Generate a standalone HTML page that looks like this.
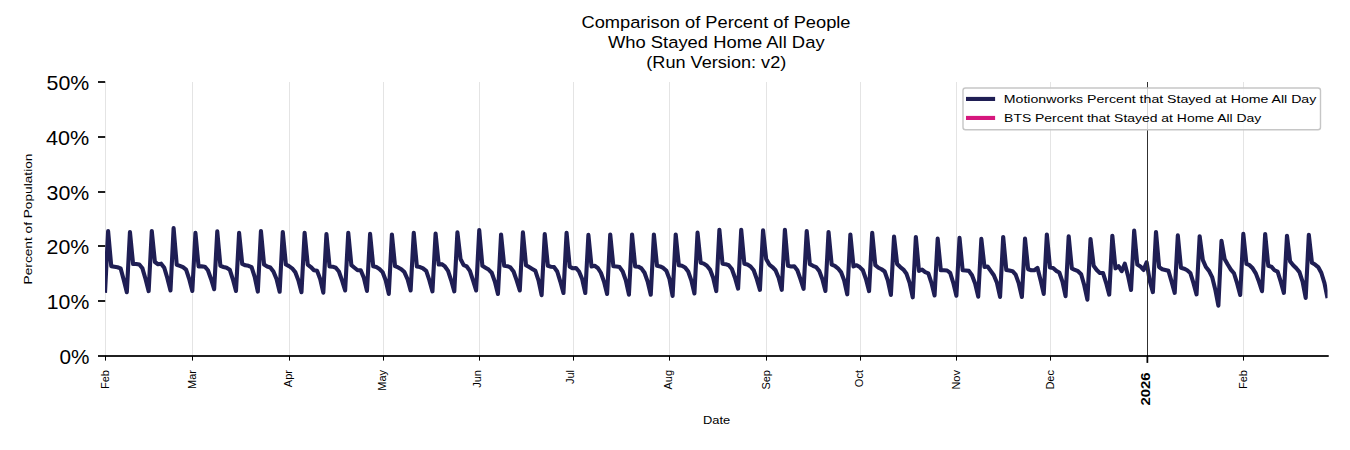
<!DOCTYPE html>
<html lang="en">
<head>
<meta charset="utf-8">
<title>Comparison of Percent of People Who Stayed Home All Day (Run Version: v2)</title>
<style>
html,body{margin:0;padding:0;background:#fff;font-family:"Liberation Sans",sans-serif;}
body{width:1350px;height:450px;overflow:hidden;}
svg{display:block;}
</style>
</head>
<body>
<svg width="1350" height="450" viewBox="0 0 1350 450" role="img" aria-label="Comparison of Percent of People Who Stayed Home All Day (Run Version: v2)">
<rect x="0" y="0" width="1350" height="450" fill="#fff"/>
<defs><clipPath id="ax"><rect x="105.0" y="82.0" width="1222.5304" height="274.0"/></clipPath></defs>
<g fill="#e4e4e4" aria-hidden="true">
<rect x="105" y="82.0" width="1" height="274.0"/>
<rect x="192" y="82.0" width="1" height="274.0"/>
<rect x="289" y="82.0" width="1" height="274.0"/>
<rect x="383" y="82.0" width="1" height="274.0"/>
<rect x="479" y="82.0" width="1" height="274.0"/>
<rect x="573" y="82.0" width="1" height="274.0"/>
<rect x="669" y="82.0" width="1" height="274.0"/>
<rect x="766" y="82.0" width="1" height="274.0"/>
<rect x="860" y="82.0" width="1" height="274.0"/>
<rect x="956" y="82.0" width="1" height="274.0"/>
<rect x="1050" y="82.0" width="1" height="274.0"/>
<rect x="1243" y="82.0" width="1" height="274.0"/>
</g>
<polyline clip-path="url(#ax)" points="105.00,292.87 108.12,231.06 111.24,266.13 114.36,266.68 117.47,267.22 120.59,268.32 123.71,279.83 126.83,292.16 129.95,231.99 133.07,263.94 136.19,263.94 139.31,264.48 142.42,268.32 145.54,279.01 148.66,291.12 151.78,231.06 154.90,262.02 158.02,264.21 161.14,263.66 164.26,267.77 167.37,278.18 170.49,290.51 173.61,228.15 176.73,264.76 179.85,265.85 182.97,267.22 186.09,269.69 189.20,279.01 192.32,290.90 195.44,232.86 198.56,266.40 201.68,266.40 204.80,266.68 207.92,270.24 211.04,279.01 214.15,289.25 217.27,231.38 220.39,265.85 223.51,266.95 226.63,267.77 229.75,269.69 232.87,279.28 235.99,290.90 239.10,232.86 242.22,263.94 245.34,265.31 248.46,265.85 251.58,267.22 254.70,276.81 257.82,291.56 260.94,231.06 264.05,264.54 267.17,266.46 270.29,267.44 273.41,271.50 276.53,279.06 279.65,291.77 282.77,231.93 285.88,264.54 289.00,266.18 292.12,268.32 295.24,272.10 298.36,280.32 301.48,292.16 304.60,232.81 307.72,264.54 310.83,267.06 313.95,270.24 317.07,270.84 320.19,279.06 323.31,292.65 326.43,234.07 329.55,266.46 332.67,266.68 335.78,267.72 338.90,271.50 342.02,280.32 345.14,290.51 348.26,232.81 351.38,265.20 354.50,267.72 357.61,270.24 360.73,270.24 363.85,277.80 366.97,290.90 370.09,233.85 373.21,266.18 376.33,267.06 379.45,268.98 382.56,272.10 385.68,280.32 388.80,293.91 391.92,234.45 395.04,266.18 398.16,267.44 401.28,269.25 404.40,272.10 407.51,279.06 410.63,290.51 413.75,232.81 416.87,266.46 419.99,267.06 423.11,268.48 426.23,270.79 429.34,280.10 432.46,291.39 435.58,233.58 438.70,264.54 441.82,264.16 444.94,266.46 448.06,270.84 451.18,280.32 454.29,291.39 457.41,232.32 460.53,259.00 463.65,265.20 466.77,266.46 469.89,270.84 473.01,280.32 476.13,290.51 479.24,230.07 482.36,265.80 485.48,267.72 488.60,269.58 491.72,272.76 494.84,281.58 497.96,293.91 501.07,234.45 504.19,265.80 507.31,266.18 510.43,267.44 513.55,271.50 516.67,280.32 519.79,290.51 522.91,232.32 526.02,265.20 529.14,267.06 532.26,268.98 535.38,270.84 538.50,280.32 541.62,295.17 544.74,234.07 547.86,265.80 550.97,266.68 554.09,267.06 557.21,271.50 560.33,281.58 563.45,293.03 566.57,232.81 569.69,266.68 572.81,268.32 575.92,267.94 579.04,271.50 582.16,279.06 585.28,293.03 588.40,234.84 591.52,266.46 594.64,265.80 597.75,267.94 600.87,272.76 603.99,281.58 607.11,293.91 610.23,234.45 613.35,266.18 616.47,266.46 619.59,267.06 622.70,271.50 625.82,280.32 628.94,294.68 632.06,234.45 635.18,266.46 638.30,266.68 641.42,268.32 644.54,272.76 647.65,281.58 650.77,294.68 653.89,234.45 657.01,265.80 660.13,266.46 663.25,267.94 666.37,270.84 669.48,279.06 672.60,295.94 675.72,234.45 678.84,265.20 681.96,265.80 685.08,267.44 688.20,271.50 691.32,280.32 694.43,293.42 697.55,232.59 700.67,262.68 703.79,263.66 706.91,265.80 710.03,269.58 713.15,277.80 716.27,291.12 719.38,229.80 722.50,263.66 725.62,264.16 728.74,265.20 731.86,268.98 734.98,277.80 738.10,288.60 741.21,229.80 744.33,263.66 747.45,264.54 750.57,266.46 753.69,270.24 756.81,279.06 759.93,289.86 763.05,230.29 766.16,258.89 769.28,264.54 772.40,267.06 775.52,270.24 778.64,277.80 781.76,289.86 784.88,229.80 788.00,265.80 791.11,266.46 794.23,266.18 797.35,270.24 800.47,279.06 803.59,288.87 806.71,231.06 809.83,264.16 812.94,265.80 816.06,267.06 819.18,270.84 822.30,279.06 825.42,290.90 828.54,231.93 831.66,264.54 834.78,265.80 837.89,268.32 841.01,272.10 844.13,280.32 847.25,294.30 850.37,234.45 853.49,266.46 856.61,265.20 859.73,267.06 862.84,270.24 865.96,279.06 869.08,291.12 872.20,232.81 875.32,265.20 878.44,267.72 881.56,269.25 884.67,271.50 887.79,280.32 890.91,294.90 894.03,236.59 897.15,263.94 900.27,267.06 903.39,269.58 906.51,273.80 909.62,282.84 912.74,297.31 915.86,236.97 918.98,270.84 922.10,269.58 925.22,272.10 928.34,273.36 931.46,282.84 934.57,295.39 937.69,238.62 940.81,270.24 943.93,270.24 947.05,270.51 950.17,272.98 953.29,282.84 956.41,295.67 959.52,237.85 962.64,270.24 965.76,270.51 968.88,270.84 972.00,275.28 975.12,283.44 978.24,296.65 981.35,238.89 984.47,267.06 987.59,266.46 990.71,270.84 993.83,275.28 996.95,282.84 1000.07,296.93 1003.19,236.97 1006.30,269.96 1009.42,270.51 1012.54,271.22 1015.66,274.62 1018.78,283.44 1021.90,296.93 1025.02,238.62 1028.14,269.25 1031.25,270.24 1034.37,270.24 1037.49,267.94 1040.61,280.32 1043.73,293.91 1046.85,234.45 1049.97,267.44 1053.08,267.94 1056.20,270.84 1059.32,272.48 1062.44,281.58 1065.56,296.16 1068.68,236.32 1071.80,268.32 1074.92,269.96 1078.03,271.22 1081.15,274.24 1084.27,285.31 1087.39,299.67 1090.51,239.11 1093.63,265.80 1096.75,269.96 1099.87,272.98 1102.98,272.98 1106.10,282.84 1109.22,294.62 1112.34,235.71 1115.46,268.32 1118.58,266.13 1121.70,271.22 1124.81,263.66 1127.93,275.44 1131.05,289.97 1134.17,230.67 1137.29,264.54 1140.41,266.46 1143.53,269.96 1146.65,262.29 1149.76,280.92 1152.88,292.10 1156.00,231.93 1159.12,267.06 1162.24,269.25 1165.36,269.96 1168.48,270.84 1171.60,281.58 1174.71,292.87 1177.83,235.33 1180.95,267.72 1184.07,268.70 1187.19,270.24 1190.31,272.98 1193.43,282.84 1196.55,294.35 1199.66,236.21 1202.78,259.83 1205.90,267.06 1209.02,270.84 1212.14,277.09 1215.26,289.42 1218.38,305.69 1221.49,240.76 1224.61,258.89 1227.73,264.54 1230.85,269.58 1233.97,273.25 1237.09,283.12 1240.21,295.01 1243.33,233.85 1246.44,263.94 1249.56,265.20 1252.68,268.32 1255.80,273.36 1258.92,281.58 1262.04,291.23 1265.16,234.07 1268.28,265.80 1271.39,266.68 1274.51,270.24 1277.63,271.72 1280.75,281.58 1283.87,292.87 1286.99,235.71 1290.11,261.42 1293.22,265.20 1296.34,268.32 1299.46,272.10 1302.58,281.58 1305.70,297.91 1308.82,234.84 1311.94,262.68 1315.06,264.54 1318.17,267.06 1321.29,272.76 1324.41,282.84 1327.53,298.19" fill="none" stroke="#1f1e54" stroke-width="4.1" stroke-linejoin="round" stroke-linecap="butt"/>
<rect x="1147" y="82.0" width="1" height="274.0" fill="#303030"/>
<rect x="105.0" y="355.13" width="1223.73" height="1.74" fill="#000"/>
<g fill="#000">
<rect x="98" y="355.13" width="7.2" height="1.74"/>
<rect x="98" y="300.13" width="7.2" height="1.74"/>
<rect x="98" y="245.13" width="7.2" height="1.74"/>
<rect x="98" y="191.13" width="7.2" height="1.74"/>
<rect x="98" y="136.13" width="7.2" height="1.74"/>
<rect x="98" y="81.13" width="7.2" height="1.74"/>
<rect x="105" y="356.0" width="1" height="4.6"/>
<rect x="192" y="356.0" width="1" height="4.6"/>
<rect x="289" y="356.0" width="1" height="4.6"/>
<rect x="383" y="356.0" width="1" height="4.6"/>
<rect x="479" y="356.0" width="1" height="4.6"/>
<rect x="573" y="356.0" width="1" height="4.6"/>
<rect x="669" y="356.0" width="1" height="4.6"/>
<rect x="766" y="356.0" width="1" height="4.6"/>
<rect x="860" y="356.0" width="1" height="4.6"/>
<rect x="956" y="356.0" width="1" height="4.6"/>
<rect x="1050" y="356.0" width="1" height="4.6"/>
<rect x="1243" y="356.0" width="1" height="4.6"/>
<rect x="1146.5" y="356.0" width="1.74" height="6.9"/>
</g>
<rect x="963" y="88" width="357.5" height="41.8" rx="2.5" ry="2.5" fill="#fff" fill-opacity="0.8" stroke="#c6c6c6" stroke-width="1.4"/>
<rect x="966" y="96.9" width="29.1" height="4.1" fill="#1f1e54"/>
<rect x="966" y="115.9" width="29.1" height="4.1" fill="#d6177d"/>
<g font-family="'Liberation Sans', sans-serif" fill="#000" stroke="none">
<text x="581.5" y="27.6" font-size="16.67" textLength="269" lengthAdjust="spacingAndGlyphs">Comparison of Percent of People</text>
<text x="607.9" y="47.6" font-size="16.67" textLength="216.7" lengthAdjust="spacingAndGlyphs">Who Stayed Home All Day</text>
<text x="646.3" y="67.7" font-size="16.67" textLength="140" lengthAdjust="spacingAndGlyphs">(Run Version: v2)</text>
<text x="59.4" y="363.5" font-size="20.4" textLength="30" lengthAdjust="spacingAndGlyphs">0%</text>
<text x="46.8" y="308.5" font-size="20.4" textLength="42.5" lengthAdjust="spacingAndGlyphs">10%</text>
<text x="46.6" y="253.5" font-size="20.4" textLength="42.7" lengthAdjust="spacingAndGlyphs">20%</text>
<text x="46.6" y="199.5" font-size="20.4" textLength="42.7" lengthAdjust="spacingAndGlyphs">30%</text>
<text x="46.1" y="144.5" font-size="20.4" textLength="43.2" lengthAdjust="spacingAndGlyphs">40%</text>
<text x="46.6" y="89.5" font-size="20.4" textLength="42.7" lengthAdjust="spacingAndGlyphs">50%</text>
<text x="108.7" y="370" font-size="11" text-anchor="end" transform="rotate(-90 108.7 370)">Feb</text>
<text x="195.7" y="370" font-size="11" text-anchor="end" transform="rotate(-90 195.7 370)">Mar</text>
<text x="292.0" y="370" font-size="11" text-anchor="end" transform="rotate(-90 292.0 370)">Apr</text>
<text x="386.3" y="370" font-size="11" text-anchor="end" transform="rotate(-90 386.3 370)">May</text>
<text x="481.2" y="370" font-size="11" text-anchor="end" transform="rotate(-90 481.2 370)">Jun</text>
<text x="574.4" y="370" font-size="11" text-anchor="end" transform="rotate(-90 574.4 370)">Jul</text>
<text x="671.5" y="370" font-size="11" text-anchor="end" transform="rotate(-90 671.5 370)">Aug</text>
<text x="769.7" y="370" font-size="11" text-anchor="end" transform="rotate(-90 769.7 370)">Sep</text>
<text x="863.0" y="370" font-size="11" text-anchor="end" transform="rotate(-90 863.0 370)">Oct</text>
<text x="959.7" y="370" font-size="11" text-anchor="end" transform="rotate(-90 959.7 370)">Nov</text>
<text x="1053.7" y="370" font-size="11" text-anchor="end" transform="rotate(-90 1053.7 370)">Dec</text>
<text x="1246.7" y="370" font-size="11" text-anchor="end" transform="rotate(-90 1246.7 370)">Feb</text>
<text x="1150.0" y="405.5" font-size="13" font-weight="bold" textLength="33" lengthAdjust="spacingAndGlyphs" transform="rotate(-90 1150.0 405.5)">2026</text>
<text x="703" y="423.9" font-size="11.5" textLength="27.2" lengthAdjust="spacingAndGlyphs">Date</text>
<text x="31.6" y="284.4" font-size="11.5" textLength="130.8" lengthAdjust="spacingAndGlyphs" transform="rotate(-90 31.6 284.4)">Percent of Population</text>
<text x="1003.8" y="103" font-size="11.5" textLength="312.5" lengthAdjust="spacingAndGlyphs">Motionworks Percent that Stayed at Home All Day</text>
<text x="1004.1" y="122" font-size="11.5" textLength="257.2" lengthAdjust="spacingAndGlyphs">BTS Percent that Stayed at Home All Day</text>
</g>
</svg>
</body>
</html>
